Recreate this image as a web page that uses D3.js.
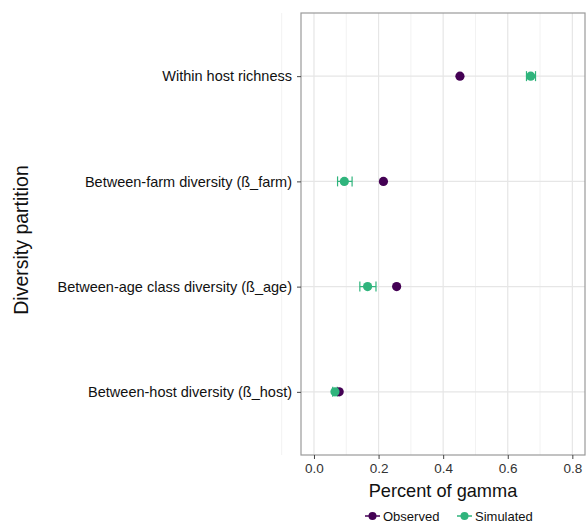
<!DOCTYPE html>
<html>
<head>
<meta charset="utf-8">
<script src="https://cdn.jsdelivr.net/npm/d3@7"></script>
<style>
  body { margin: 0; background: #fff; }
  text { font-family: "Liberation Sans", Arial, sans-serif; }
</style>
</head>
<body>
<div id="chart"></div>
<script>
// categories top to bottom
var categories = ['Within host richness',
  'Between-farm diversity (ß_farm)',
  'Between-age class diversity (ß_age)',
  'Between-host diversity (ß_host)'];

var observed = [0.452, 0.215, 0.256, 0.078];
var simulated = [0.671, 0.094, 0.166, 0.065];
var simLow = [0.658, 0.073, 0.142, 0.058];
var simHigh = [0.686, 0.118, 0.192, 0.072];

var xTicks = [0, 0.2, 0.4, 0.6, 0.8];
var xMinor = [-0.1, 0.1, 0.3, 0.5, 0.7];
var seriesNames = ['Observed', 'Simulated'];
var seriesColors = ['#440154', '#2fb47c'];

var W = 586, H = 523;
var panel = {left: 301, top: 13, right: 585, bottom: 455};

var svg = d3.select('#chart').append('svg')
  .attr('width', W)
  .attr('height', H);

var xScale = d3.scaleLinear()
  .domain([-0.0402, 0.8392])
  .range([panel.left, panel.right]);

// discrete scale with ggplot-like 0.6 expansion
var yScale = d3.scalePoint()
  .domain(categories)
  .range([panel.top, panel.bottom])
  .padding(0.6);

// grid
var grid = svg.append('g');
grid.selectAll('line.minor').data(xMinor).enter().append('line')
  .attr('x1', function(d) { return xScale(d); })
  .attr('x2', function(d) { return xScale(d); })
  .attr('y1', panel.top).attr('y2', panel.bottom)
  .style('stroke', '#f2f2f2').style('stroke-width', 1);
grid.selectAll('line.vmajor').data(xTicks).enter().append('line')
  .attr('x1', function(d) { return xScale(d); })
  .attr('x2', function(d) { return xScale(d); })
  .attr('y1', panel.top).attr('y2', panel.bottom)
  .style('stroke', '#e6e6e6').style('stroke-width', 1.2);
grid.selectAll('line.hmajor').data(categories).enter().append('line')
  .attr('x1', panel.left).attr('x2', panel.right)
  .attr('y1', function(d) { return yScale(d); })
  .attr('y2', function(d) { return yScale(d); })
  .style('stroke', '#e6e6e6').style('stroke-width', 1.2);

// error bars for simulated
var eb = svg.append('g').selectAll('g').data(categories).enter().append('g')
  .style('stroke', seriesColors[1]).style('stroke-width', 1.2);
eb.append('line')
  .attr('x1', function(d, i) { return xScale(simLow[i]); })
  .attr('x2', function(d, i) { return xScale(simHigh[i]); })
  .attr('y1', function(d) { return yScale(d); })
  .attr('y2', function(d) { return yScale(d); });
eb.append('line')
  .attr('x1', function(d, i) { return xScale(simLow[i]); })
  .attr('x2', function(d, i) { return xScale(simLow[i]); })
  .attr('y1', function(d) { return yScale(d) - 5; })
  .attr('y2', function(d) { return yScale(d) + 5; });
eb.append('line')
  .attr('x1', function(d, i) { return xScale(simHigh[i]); })
  .attr('x2', function(d, i) { return xScale(simHigh[i]); })
  .attr('y1', function(d) { return yScale(d) - 5; })
  .attr('y2', function(d) { return yScale(d) + 5; });

// points
svg.append('g').selectAll('circle').data(observed).enter().append('circle')
  .attr('cx', function(d) { return xScale(d); })
  .attr('cy', function(d, i) { return yScale(categories[i]); })
  .attr('r', 4.6)
  .style('fill', seriesColors[0]);
svg.append('g').selectAll('circle').data(simulated).enter().append('circle')
  .attr('cx', function(d) { return xScale(d); })
  .attr('cy', function(d, i) { return yScale(categories[i]); })
  .attr('r', 4.6)
  .style('fill', seriesColors[1]);

// panel border
svg.append('rect')
  .attr('x', panel.left).attr('y', panel.top)
  .attr('width', panel.right - panel.left)
  .attr('height', panel.bottom - panel.top)
  .style('fill', 'none').style('stroke', '#9a9a9a').style('stroke-width', 1.2);

// axes
var xAxis = d3.axisBottom(xScale)
  .tickValues(xTicks)
  .tickFormat(d3.format('.1f'))
  .tickSize(4).tickPadding(4);
var xg = svg.append('g')
  .attr('transform', 'translate(0,' + panel.bottom + ')')
  .call(xAxis);
xg.select('.domain').remove();
xg.selectAll('line').style('stroke', '#444');
xg.selectAll('text').style('font-size', '13.5px').style('fill', '#333');

var yAxis = d3.axisLeft(yScale).tickSize(4).tickPadding(5);
var yg = svg.append('g')
  .attr('transform', 'translate(' + panel.left + ',0)')
  .call(yAxis);
yg.select('.domain').remove();
yg.selectAll('line').style('stroke', '#444');
yg.selectAll('text').style('font-size', '14.5px').style('fill', '#111');

// titles
svg.append('text')
  .attr('x', (panel.left + panel.right) / 2)
  .attr('y', 497)
  .attr('text-anchor', 'middle')
  .style('font-size', '18.2px')
  .style('fill', '#111')
  .text('Percent of gamma');

svg.append('text')
  .attr('transform', 'translate(28,240) rotate(-90)')
  .attr('text-anchor', 'middle')
  .style('font-size', '19.5px')
  .style('fill', '#111')
  .text('Diversity partition');

// legend
var legend = svg.append('g').attr('transform', 'translate(0,516)');
var legX = [365, 457];
var item = legend.selectAll('g').data(seriesNames).enter().append('g')
  .attr('transform', function(d, i) { return 'translate(' + legX[i] + ',0)'; });
item.append('line')
  .attr('x1', 0).attr('x2', 15)
  .style('stroke', function(d, i) { return seriesColors[i]; })
  .style('stroke-width', 1.5);
item.append('circle')
  .attr('cx', 7.5).attr('r', 4)
  .style('fill', function(d, i) { return seriesColors[i]; });
item.append('text')
  .attr('x', 18).attr('dy', '0.35em')
  .style('font-size', '13px')
  .style('fill', '#111')
  .text(function(d) { return d; });
</script>
</body>
</html>
